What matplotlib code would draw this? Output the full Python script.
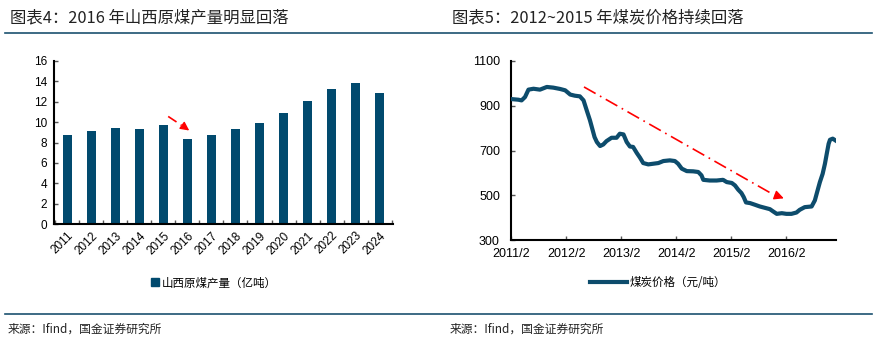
import matplotlib
matplotlib.use("Agg")
import matplotlib.pyplot as plt
from matplotlib.lines import Line2D
from matplotlib.patches import Patch

plt.rcParams['font.family'] = ['Liberation Sans', 'Noto Sans CJK SC', 'DejaVu Sans']
CJK = ['Noto Sans CJK SC', 'DejaVu Sans']

# ---- data: bar chart (Shanxi raw coal output, 100 million t)
years = ['2011', '2012', '2013', '2014', '2015', '2016', '2017',
         '2018', '2019', '2020', '2021', '2022', '2023', '2024']
output = [8.76, 9.18, 9.41, 9.31, 9.71, 8.37, 8.76,
          9.31, 9.90, 10.85, 12.09, 13.27, 13.82, 12.84]

# ---- data: line chart (coal price, yuan/t); x = months since 2011/2
price_month = [0, 1.6, 2.3, 3.05, 3.8, 4.9, 6.3, 7.8, 9.2, 10.7, 11.8, 12.9, 13.9,
               15.0, 15.8, 16.5, 17.2, 17.8, 18.2, 18.7, 19.4, 20.1, 20.8, 21.9,
               23.0, 23.7, 24.5, 25.2, 25.9, 26.6, 27.4, 28.1, 28.8, 29.9, 31.0,
               32.1, 33.2, 34.6, 35.7, 36.4, 37.2, 38.3, 39.7, 40.8, 41.5, 41.9,
               43.3, 44.8, 46.2, 47.0, 48.1, 48.8, 49.5, 50.2, 50.7, 51.2, 52.1,
               53.1, 54.2, 55.3, 56.4, 57.1, 57.9, 59.0, 60.0, 61.1, 62.2, 62.9,
               64.0, 65.5, 66.2, 66.8, 67.3, 67.9, 68.4, 68.8, 69.2, 69.5, 70.1, 70.7]
price = [930, 927, 924, 939, 972, 976, 972, 984, 981, 975, 969, 950, 945,
         942, 924, 879, 835, 790, 760, 738, 720, 727, 742, 757,
         757, 775, 772, 738, 718, 716, 689, 668, 644, 638, 641,
         644, 653, 656, 653, 641, 619, 608, 607, 604, 589, 569,
         566, 566, 569, 559, 555, 544, 525, 510, 492, 468, 465,
         458, 450, 444, 438, 428, 417, 420, 417, 417, 423, 435,
         447, 450, 477, 522, 559, 596, 641, 686, 730, 748, 753, 745]
xtick_labels = ['2011/2', '2012/2', '2013/2', '2014/2', '2015/2', '2016/2']

BAR = '#014A6E'
LINE = '#0D4C6C'
RULE = '#1B5170'

fig = plt.figure(figsize=(8.77, 3.40), dpi=100)

# ---------- left: bar chart
ax1 = fig.add_axes([0.0616, 0.341, 0.3864, 0.4796])
xs = list(range(len(years)))
ax1.bar(xs, output, width=0.37, color=BAR, zorder=2)
ax1.set_xlim(-0.55, len(years) - 0.45)
ax1.set_ylim(0, 16)
ax1.set_yticks(range(0, 17, 2))
ax1.set_xticks(xs)
ax1.set_xticklabels(years, rotation=45, ha='right', rotation_mode='anchor')
ax1.set_xticks([i + 0.5 for i in range(-1, len(years))], minor=True)
ax1.tick_params(axis='x', which='major', length=0, labelsize=8.5, pad=4)
ax1.tick_params(axis='x', which='minor', direction='in', length=3, width=1, color='#555555')
ax1.tick_params(axis='y', direction='in', length=3, width=1, labelsize=8.5, pad=5, color='#555555')
for s in ['top', 'right']:
    ax1.spines[s].set_visible(False)
for s in ['left', 'bottom']:
    ax1.spines[s].set_linewidth(1.5)
ax1.plot([4.2, 4.75], [10.56, 9.7], color='red', lw=1.2, ls=(0, (6, 3, 1, 3)))
ax1.annotate('', xy=(5.17, 9.02), xytext=(4.8, 9.65),
             arrowprops=dict(arrowstyle='-|>', color='red', lw=1.0, mutation_scale=13))
fig.legend(handles=[Patch(color=BAR, label='山西原煤产量（亿吨）')],
           loc='center', bbox_to_anchor=(0.244, 0.168), frameon=False,
           prop={'family': CJK, 'size': 8.3}, handlelength=0.7, handleheight=0.7,
           handletextpad=0.2)

# ---------- right: line chart
ax2 = fig.add_axes([0.5827, 0.294, 0.3705, 0.5266])
ax2.plot(price_month, price, color=LINE, lw=3.0, solid_joinstyle='round', zorder=3)
ax2.set_xlim(0, 70.8)
ax2.set_ylim(300, 1100)
ax2.set_yticks(range(300, 1101, 200))
ax2.set_xticks([12 * i for i in range(len(xtick_labels))])
ax2.set_xticklabels(xtick_labels)
ax2.tick_params(axis='x', direction='in', length=3, width=1, labelsize=9, pad=6, color='#555555')
ax2.tick_params(axis='y', direction='in', length=3, width=1, labelsize=9, pad=8, color='#555555')
for s in ['top', 'right']:
    ax2.spines[s].set_visible(False)
for s in ['left', 'bottom']:
    ax2.spines[s].set_linewidth(1.5)
ax2.plot([15.9, 57.0], [984, 505], color='red', lw=1.2, ls=(0, (8, 3, 1, 3)))
ax2.annotate('', xy=(60.0, 482), xytext=(57.0, 505),
             arrowprops=dict(arrowstyle='-|>', color='red', lw=1.0, mutation_scale=14))
fig.legend(handles=[Line2D([], [], color=LINE, lw=3.0, label='煤炭价格（元/吨）')],
           loc='center', bbox_to_anchor=(0.75, 0.168), frameon=False,
           prop={'family': CJK, 'size': 8.3}, handlelength=3.2, handletextpad=0.2)

# ---------- titles, rules, sources
fig.text(0.0114, 0.947, '图表4：2016 年山西原煤产量明显回落', family=CJK, fontsize=11.8,
         color='#222222', va='center', ha='left', style='italic')
fig.text(0.515, 0.947, '图表5：2012~2015 年煤炭价格持续回落', family=CJK, fontsize=11.8,
         color='#222222', va='center', ha='left', style='italic')
fig.add_artist(Line2D([0.006, 0.994], [0.903, 0.903], color=RULE, lw=1.2))
fig.add_artist(Line2D([0.006, 0.994], [0.0765, 0.0765], color=RULE, lw=1.2))
fig.text(0.009, 0.032, '来源：Ifind，国金证券研究所', family=CJK, fontsize=8.5,
         color='#222222', va='center', ha='left')
fig.text(0.513, 0.032, '来源：Ifind，国金证券研究所', family=CJK, fontsize=8.5,
         color='#222222', va='center', ha='left')

fig.savefig('out.png', dpi=100)
